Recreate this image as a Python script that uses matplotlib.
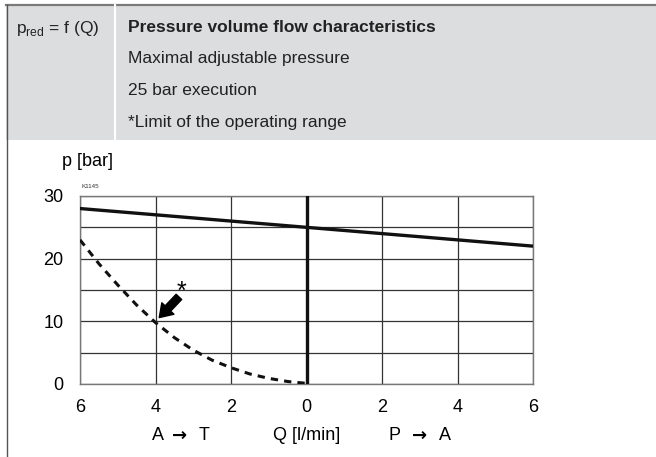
import matplotlib
matplotlib.use('Agg')
import matplotlib.pyplot as plt
from matplotlib.patches import Rectangle
from matplotlib.lines import Line2D

# data
q_max = [-6, 6]
p_max = [28, 22]

q_limit = [-6, -5.5, -5, -4.5, -4, -3.5, -3, -2.5, -2, -1.5, -1, -0.5, 0]
p_limit = [23, 19.2, 15.8, 12.6, 9.8, 7.4, 5.4, 3.8, 2.6, 1.6, 0.9, 0.4, 0.1]

x_ticks = [-6, -4, -2, 0, 2, 4, 6]
x_labels = ['6', '4', '2', '0', '2', '4', '6']
y_ticks = [0, 10, 20, 30]
y_minor = [5, 15, 25]

header_title = 'Pressure volume flow characteristics'
header_lines = ['Maximal adjustable pressure', '25 bar execution', '*Limit of the operating range']

W, H = 656, 457
plt.rcParams['font.family'] = ['Liberation Sans', 'DejaVu Sans']

fig = plt.figure(figsize=(W / 100, H / 100), dpi=100)


def fx(px):
    return px / W


def fy(py):
    return 1 - py / H


# header box
fig.patches.append(Rectangle((fx(6), fy(140)), 1 - fx(6), fy(5) - fy(140),
                             transform=fig.transFigure, facecolor='#dcdddf', edgecolor='none'))
fig.lines.append(Line2D([fx(6), 1], [fy(5), fy(5)], transform=fig.transFigure, color='#7a7a7a', lw=1.6))
fig.lines.append(Line2D([fx(6.5), fx(6.5)], [fy(5), 0], transform=fig.transFigure, color='#555555', lw=1.0))
fig.lines.append(Line2D([fx(115), fx(115)], [fy(5), fy(140)], transform=fig.transFigure, color='white', lw=1.5))

fig.text(fx(16), fy(29), r'p$_{\mathregular{red}}$ = f (Q)', fontsize=12.5,
         va='center', ha='left', color='#222222')
fig.text(fx(128), fy(28), header_title, fontsize=12.5, fontweight='bold',
         va='center', ha='left', color='#222222')
for i, line in enumerate(header_lines):
    fig.text(fx(128), fy(59 + i * 31.5), line, fontsize=12.5,
             va='center', ha='left', color='#222222')

# chart
ax = fig.add_axes([fx(80), fy(384), fx(533) - fx(80), fy(196) - fy(384)])
ax.set_xlim(-6, 6)
ax.set_ylim(0, 30)
ax.set_xticks(x_ticks)
ax.set_xticklabels(x_labels)
ax.set_yticks(y_ticks)
ax.set_yticks(y_minor, minor=True)
ax.tick_params(which='both', length=0, labelsize=13)
ax.tick_params(axis='y', pad=12)
ax.tick_params(axis='x', pad=11)
ax.grid(True, which='both', color='#333333', lw=0.9)
for s in ax.spines.values():
    s.set_color('#777777')
    s.set_linewidth(1.0)

ax.axvline(0, color='#111111', lw=2.4, zorder=3)
ax.plot(q_max, p_max, color='#111111', lw=2.4, zorder=4)
ax.plot(q_limit, p_limit, color='#111111', lw=2.2, dashes=(2.4, 2.0), zorder=4)

# limit marker
ax.annotate('', xy=(-3.9, 10.6), xytext=(-3.38, 13.9),
            arrowprops=dict(arrowstyle='simple,head_length=0.9,head_width=1.2,tail_width=0.55',
                            color='black', shrinkA=0, shrinkB=0))
ax.text(-3.3, 14.7, '*', fontsize=18, ha='center', va='center')

fig.text(fx(81), fy(187), 'K1145', fontsize=4.5, ha='left', va='center', color='#333333')
fig.text(fx(88), fy(161), 'p [bar]', fontsize=13, ha='center', va='center')

# x axis caption
arrow_font = ['DejaVu Sans']
fig.text(fx(158), fy(436), 'A', fontsize=13, ha='center', va='center')
fig.text(fx(180), fy(436), '→', fontsize=13, family=arrow_font, fontweight='bold', ha='center', va='center')
fig.text(fx(204), fy(436), 'T', fontsize=13, ha='center', va='center')
fig.text(fx(307), fy(436), 'Q [l/min]', fontsize=13, ha='center', va='center')
fig.text(fx(395), fy(436), 'P', fontsize=13, ha='center', va='center')
fig.text(fx(420), fy(436), '→', fontsize=13, family=arrow_font, fontweight='bold', ha='center', va='center')
fig.text(fx(445), fy(436), 'A', fontsize=13, ha='center', va='center')

fig.savefig('out.png', dpi=100)
plt.close(fig)
